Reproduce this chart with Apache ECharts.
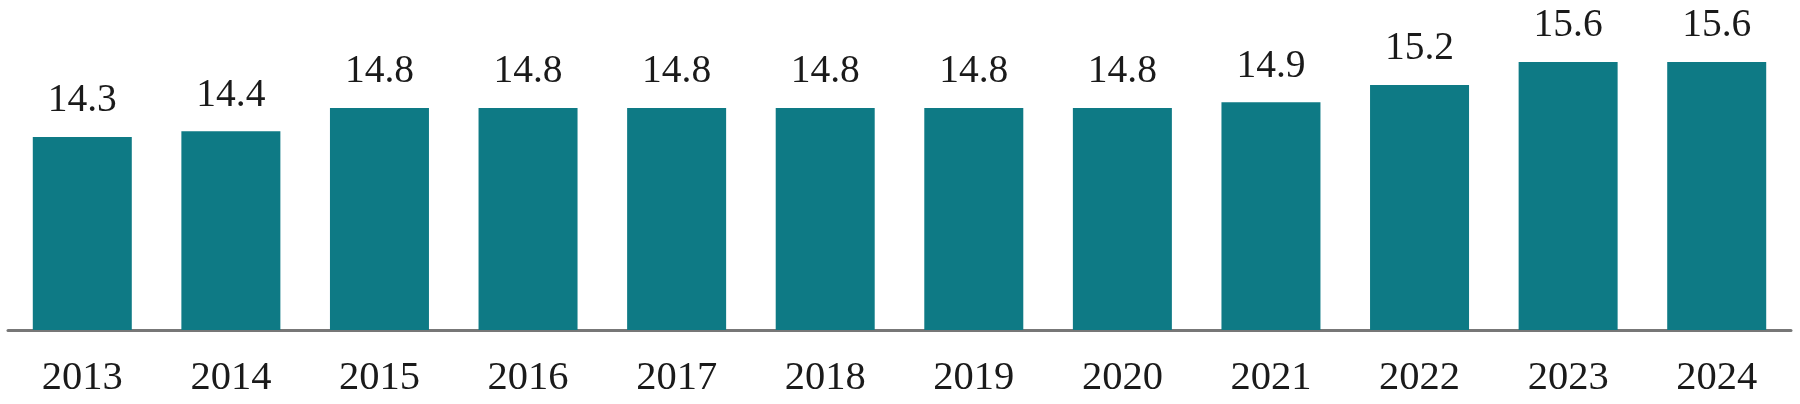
<!DOCTYPE html>
<html>
<head>
<meta charset="utf-8">
<script src="https://cdn.jsdelivr.net/npm/echarts@6/dist/echarts.min.js"></script>
<style>html,body{margin:0;padding:0;background:#fff;}#c{width:1800px;height:404px;}</style>
</head>
<body>
<div id="c"></div>
<script>
const categories = ['2013','2014','2015','2016','2017','2018','2019','2020','2021','2022','2023','2024'];
const values = [14.3, 14.4, 14.8, 14.8, 14.8, 14.8, 14.8, 14.8, 14.9, 15.2, 15.6, 15.6];

const chart = echarts.init(document.getElementById('c'), null, {renderer: 'canvas'});
chart.setOption({
  animation: false,
  grid: {left: 8, right: 9, top: 13, bottom: 74, containLabel: false},
  xAxis: {
    type: 'category',
    data: categories,
    axisLine: {show: true, lineStyle: {color: '#777777', width: 3}},
    axisTick: {show: false},
    axisLabel: {fontFamily: 'Liberation Serif', fontSize: 40.5, color: '#1a1a1a', margin: 28}
  },
  yAxis: {
    type: 'value', min: 10.95, max: 16.45,
    show: false, splitLine: {show: false}
  },
  series: [{
    type: 'bar',
    data: values,
    barWidth: 99,
    itemStyle: {color: '#0e7a85'},
    label: {show: true, position: 'top', distance: 16, fontFamily: 'Liberation Serif', fontSize: 39.5, color: '#1a1a1a',
      formatter: p => p.value.toFixed(1)}
  }]
});
</script>
</body>
</html>
